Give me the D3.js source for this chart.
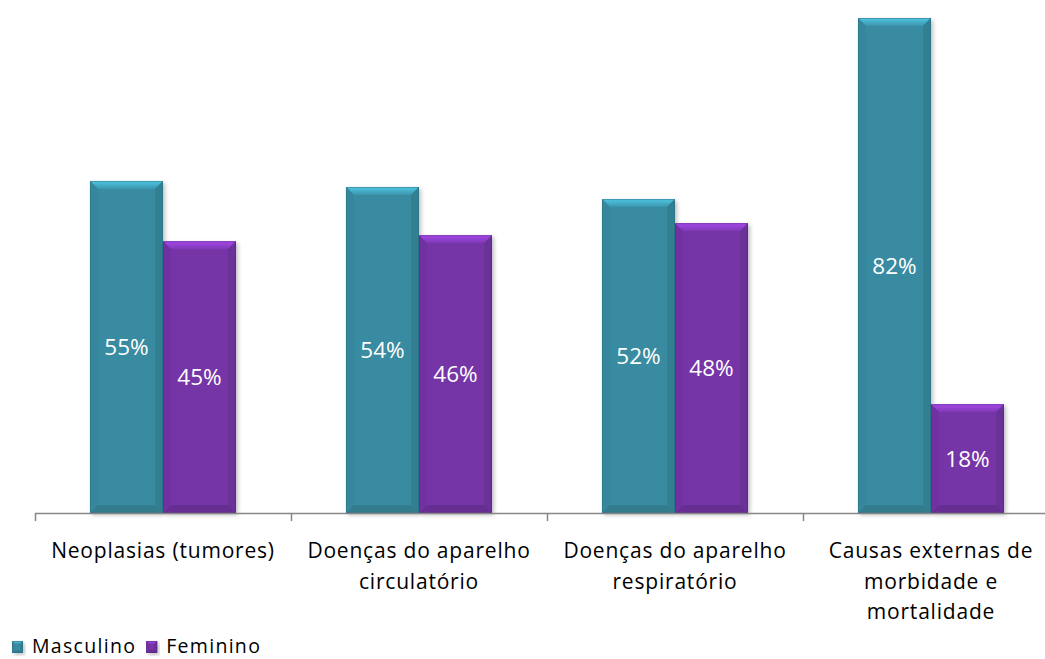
<!DOCTYPE html>
<html>
<head>
<meta charset="utf-8">
<script src="https://cdn.jsdelivr.net/npm/d3@7"></script>
<style>
  html, body { margin: 0; padding: 0; background: #fff; }
  svg { display: block; font-family: "Open Sans", Lato, sans-serif; }
</style>
</head>
<body>
<svg id="chart" width="1045" height="659"></svg>
<script>
// Share of deaths by sex for each group of causes (%)
const categories = [
  "Neoplasias (tumores)",
  "Doenças do aparelho\ncirculatório",
  "Doenças do aparelho\nrespiratório",
  "Causas externas de\nmorbidade e\nmortalidade"
];
const seriesNames = ["Masculino", "Feminino"];
const masculino = [55, 54, 52, 82];
const feminino = [45, 46, 48, 18];

const colors = { Masculino: "#378ba0", Feminino: "#7434a6" };

const svg = d3.select("#chart");
const baseY = 513;
const left = 35;
const step = 256;

const x0 = d3.scaleBand().domain(categories).range([left, left + step * categories.length]).paddingInner(0).paddingOuter(0);
const x1 = d3.scaleBand().domain(seriesNames).range([0, x0.bandwidth()]).paddingInner(0).paddingOuter(0.753);
const y = d3.scaleLinear().domain([0, 82]).range([baseY, 18]);

const defs = svg.append("defs");
const shadow = defs.append("filter").attr("id", "shadow").attr("x", "-20%").attr("y", "-20%").attr("width", "140%").attr("height", "140%");
shadow.append("feGaussianBlur").attr("in", "SourceAlpha").attr("stdDeviation", 2);
shadow.append("feOffset").attr("dx", 2).attr("dy", 2).attr("result", "ob");
shadow.append("feComponentTransfer").append("feFuncA").attr("type", "linear").attr("slope", 0.25);
const merge = shadow.append("feMerge");
merge.append("feMergeNode");
merge.append("feMergeNode").attr("in", "SourceGraphic");

// Vertical gradients for the lit top facet of each series
seriesNames.forEach(s => {
  const c = d3.color(colors[s]);
  const gr = defs.append("linearGradient").attr("id", "top-" + s).attr("x1", 0).attr("x2", 0).attr("y1", 0).attr("y2", 1);
  gr.append("stop").attr("offset", "0%").attr("stop-color", c.brighter(1.0).toString());
  gr.append("stop").attr("offset", "100%").attr("stop-color", c.brighter(0.2).toString());
});

const rows = categories.map((c, i) => ({ cat: c, values: [
  { s: "Masculino", v: masculino[i] },
  { s: "Feminino", v: feminino[i] }
]}));

// Bevelled bar: flat face plus four lit/shaded edge facets
function bevelBar(g, x, yTop, w, h, s, b) {
  const color = colors[s];
  const c = d3.color(color);
  const grp = g.append("g").attr("filter", "url(#shadow)");
  grp.append("rect").attr("x", x).attr("y", yTop).attr("width", w).attr("height", h).attr("fill", color);
  const bb = Math.min(b, h / 2, w / 2);
  const x2 = x + w, y2 = yTop + h;
  const poly = (pts, fill) => grp.append("polygon").attr("points", pts.map(p => p.join(",")).join(" ")).attr("fill", fill);
  poly([[x, yTop], [x2, yTop], [x2 - bb, yTop + bb], [x + bb, yTop + bb]], `url(#top-${s})`);
  poly([[x, yTop], [x + bb, yTop + bb], [x + bb, y2 - bb], [x, y2]], c.darker(0.08).toString());
  poly([[x2, yTop], [x2, y2], [x2 - bb, y2 - bb], [x2 - bb, yTop + bb]], c.darker(0.25).toString());
  poly([[x, y2], [x + bb, y2 - bb], [x2 - bb, y2 - bb], [x2, y2]], c.darker(0.35).toString());
  grp.append("rect").attr("x", x + 0.5).attr("y", yTop + 0.5).attr("width", w - 1).attr("height", h - 1)
    .attr("fill", "none").attr("stroke", c.darker(0.7).toString()).attr("stroke-width", 1).attr("stroke-opacity", 0.5);
}

const groups = svg.append("g").selectAll("g").data(rows).join("g")
  .attr("transform", d => `translate(${x0(d.cat)},0)`);

groups.each(function(d) {
  const g = d3.select(this);
  d.values.forEach(e => {
    const bx = x1(e.s), bw = x1.bandwidth();
    bevelBar(g, bx, y(e.v), bw, baseY - y(e.v), e.s, 8);
    g.append("text")
      .attr("x", bx + bw / 2)
      .attr("y", (y(e.v) + baseY) / 2)
      .attr("dy", "0.36em")
      .attr("text-anchor", "middle")
      .attr("fill", "#fff")
      .attr("font-size", 22.5)
      .text(e.v + "%");
  });
});

// Category axis
const axis = svg.append("g");
axis.append("line").attr("x1", left).attr("x2", 1045).attr("y1", baseY + 0.5).attr("y2", baseY + 0.5)
  .attr("stroke", "#878787").attr("stroke-width", 1.5);
categories.forEach(c => {
  const tx = Math.round(x0(c)) + 0.5;
  axis.append("line").attr("x1", tx).attr("x2", tx).attr("y1", baseY).attr("y2", baseY + 8)
    .attr("stroke", "#878787").attr("stroke-width", 1.5);
});
categories.forEach(c => {
  const lines = c.split("\n");
  const t = axis.append("text").attr("text-anchor", "middle").attr("font-size", 21)
    .attr("letter-spacing", 0.8).attr("fill", "#000");
  lines.forEach((ln, i) => {
    t.append("tspan").attr("x", x0(c) + x0.bandwidth() / 2).attr("y", 558 + i * 30.5).text(ln);
  });
});

// Legend
const legend = svg.append("g");
let lx = 12;
seriesNames.forEach(s => {
  bevelBar(legend, lx, 641, 11, 12, s, 3);
  const t = legend.append("text").attr("x", lx + 20).attr("y", 652.5).attr("font-size", 19.5)
    .attr("letter-spacing", 1.3).attr("fill", "#000").text(s);
  lx += 20 + t.node().getComputedTextLength() + 10;
});
</script>
</body>
</html>
